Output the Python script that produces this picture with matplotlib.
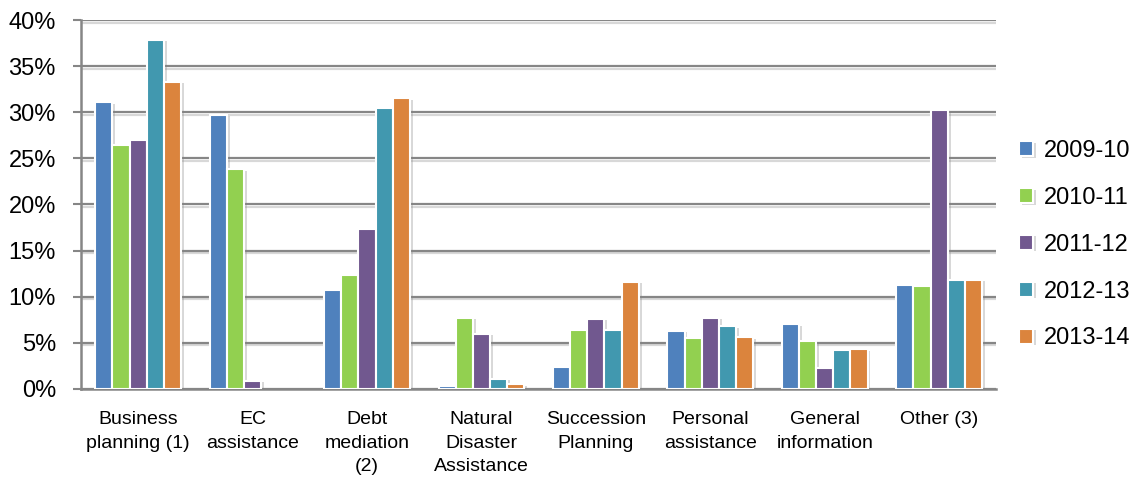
import numpy as np
import matplotlib.pyplot as plt
import matplotlib.patheffects as pe
from matplotlib.ticker import FuncFormatter

# カテゴリと年度ごとの割合 (%)
categories = ["Business\nplanning (1)", "EC\nassistance", "Debt\nmediation\n(2)",
              "Natural\nDisaster\nAssistance", "Succession\nPlanning",
              "Personal\nassistance", "General\ninformation", "Other (3)"]
years = ["2009-10", "2010-11", "2011-12", "2012-13", "2013-14"]

y2009_10 = [31.1, 29.7, 10.7, 0.3, 2.4, 6.3, 7.0, 11.3]
y2010_11 = [26.4, 23.8, 12.4, 7.7, 6.4, 5.5, 5.2, 11.2]
y2011_12 = [27.0, 0.9, 17.3, 6.0, 7.6, 7.7, 2.3, 30.2]
y2012_13 = [37.9, 0.0, 30.5, 1.1, 6.4, 6.8, 4.2, 11.8]
y2013_14 = [33.3, 0.0, 31.5, 0.5, 11.6, 5.6, 4.3, 11.8]

series = [y2009_10, y2010_11, y2011_12, y2012_13, y2013_14]
colors = ["#4F81BD", "#92D050", "#71588F", "#4198AF", "#DB843D"]

plt.rcParams["font.family"] = ["Liberation Sans", "DejaVu Sans"]

fig = plt.figure(figsize=(11.4, 4.8), dpi=100)
ax = fig.add_axes([0.071, 0.19, 0.803, 0.768])

x = np.arange(len(categories))
width = 0.15
shadow = [pe.SimplePatchShadow(offset=(2, -1), shadow_rgbFace="gray", alpha=0.3), pe.Normal()]

for i, (vals, year, c) in enumerate(zip(series, years, colors)):
    bars = ax.bar(x + (i - 2) * width, vals, width, color=c, edgecolor="white",
                  linewidth=1.5, label=year, zorder=3)
    for b, v in zip(bars, vals):
        if v > 0:
            b.set_path_effects(shadow)
        else:
            b.set_visible(False)

# グリッド線 (灰色、下に薄い影)
ax.set_axisbelow(True)
ax.yaxis.grid(True, color="#868686", linewidth=1.6, zorder=0,
              path_effects=[pe.SimpleLineShadow(offset=(0, -2), shadow_color="gray", alpha=0.3), pe.Normal()])

ax.set_ylim(0, 40)
ax.set_xlim(-0.5, len(categories) - 0.5)
ax.set_yticks(np.arange(0, 41, 5))
ax.yaxis.set_major_formatter(FuncFormatter(lambda v, _: f"{v:.0f}%"))
ax.set_xticks(x)
ax.set_xticklabels(categories, fontsize=14, linespacing=1.5)
ax.tick_params(axis="x", length=0, pad=16)
ax.tick_params(axis="y", labelsize=17, length=6, width=1.5, color="#868686", pad=12)

for side in ["top", "right"]:
    ax.spines[side].set_visible(False)
for side in ["left", "bottom"]:
    ax.spines[side].set_color("#868686")
    ax.spines[side].set_linewidth(1.8)

fig.legend(loc="center left", bbox_to_anchor=(0.875, 0.49), frameon=False,
           fontsize=17, handlelength=0.6, handleheight=0.6, handletextpad=0.45,
           labelspacing=1.05)

fig.savefig("out.png", dpi=100)
